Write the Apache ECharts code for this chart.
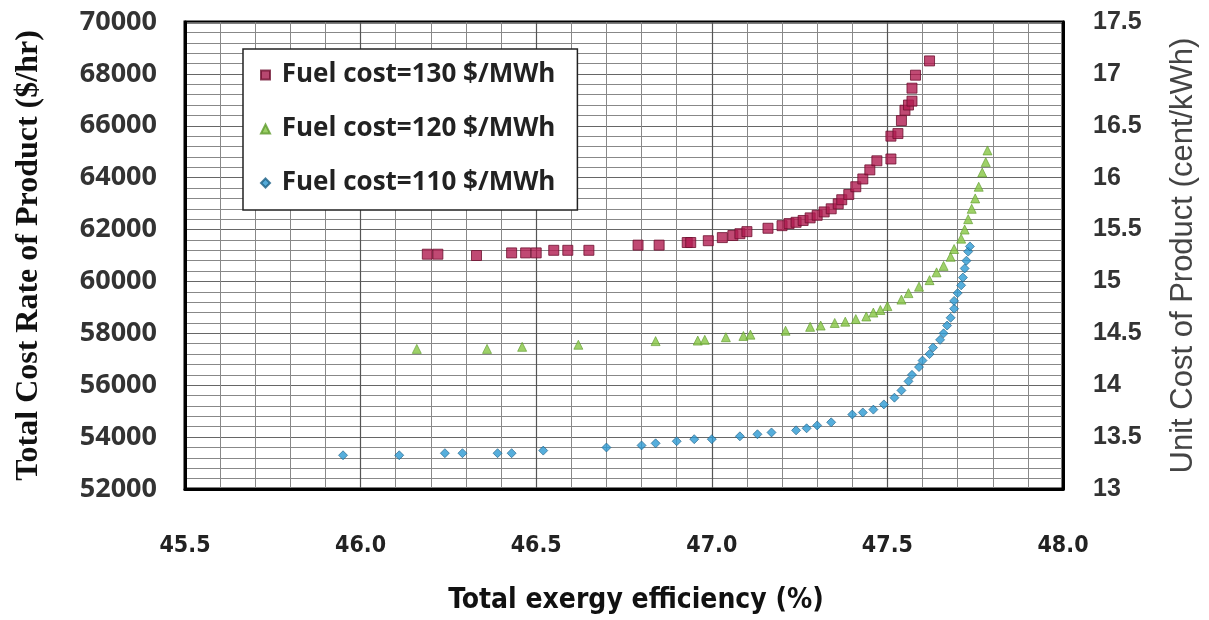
<!DOCTYPE html>
<html>
<head>
<meta charset="utf-8">
<script src="https://cdn.jsdelivr.net/npm/echarts@6/dist/echarts.min.js"></script>
<style>
html,body{margin:0;padding:0;background:#fff;}
#chart{width:1209px;height:620px;}
</style>
</head>
<body>
<div id="chart"></div>
<script>
// Fuel cost = 130 $/MWh
const x130 = [46.19,46.22,46.33,46.43,46.47,46.50,46.55,46.59,46.65,46.79,46.85,46.93,46.94,46.99,47.03,47.06,47.08,47.10,47.16,47.20,47.22,47.24,47.26,47.28,47.30,47.32,47.34,47.36,47.37,47.39,47.41,47.43,47.45,47.47,47.51,47.51,47.53,47.54,47.55,47.56,47.57,47.57,47.58,47.62];
const y130 = [61050,61050,61000,61100,61100,61100,61200,61200,61200,61400,61400,61500,61500,61570,61690,61770,61840,61920,62050,62150,62230,62280,62350,62450,62550,62680,62800,62990,63150,63350,63650,63950,64300,64650,64720,65600,65700,66200,66600,66800,66950,67450,67950,68500];
// Fuel cost = 120 $/MWh
const x120 = [46.16,46.36,46.46,46.62,46.84,46.96,46.98,47.04,47.09,47.11,47.21,47.28,47.31,47.35,47.38,47.41,47.44,47.46,47.48,47.50,47.54,47.56,47.59,47.62,47.64,47.66,47.68,47.69,47.71,47.72,47.73,47.74,47.75,47.76,47.77,47.78,47.785];
const y120 = [57400,57400,57480,57560,57700,57720,57750,57850,57900,57950,58100,58250,58300,58400,58450,58550,58650,58800,58900,59050,59300,59550,59800,60050,60350,60600,60950,61250,61650,62000,62400,62800,63200,63650,64200,64600,65050];
// Fuel cost = 110 $/MWh
const x110 = [45.95,46.11,46.24,46.29,46.39,46.43,46.52,46.70,46.80,46.84,46.90,46.95,47.00,47.08,47.13,47.17,47.24,47.27,47.30,47.34,47.40,47.43,47.46,47.49,47.52,47.54,47.56,47.57,47.59,47.60,47.62,47.63,47.65,47.66,47.67,47.68,47.69,47.69,47.70,47.71,47.715,47.72,47.725,47.73,47.735];
const y110 = [53300,53300,53380,53380,53380,53380,53480,53600,53680,53760,53840,53920,53920,54030,54110,54180,54260,54340,54450,54570,54870,54950,55060,55260,55520,55800,56150,56400,56700,56950,57200,57450,57750,58000,58300,58600,58950,59250,59550,59850,60150,60500,60800,61150,61350];

const seriesNames = ['Fuel cost=130 $/MWh','Fuel cost=120 $/MWh','Fuel cost=110 $/MWh'];
const xTitle = 'Total exergy efficiency (%)';
const yLeftTitle = 'Total Cost Rate of Product ($/hr)';
const yRightTitle = 'Unit Cost of Product (cent/kWh)';

function pairs(xs, ys){ return xs.map((x,i)=>[x, ys[i]]); }

const narrow = "'DejaVu Sans Condensed', 'Liberation Sans Narrow', 'Liberation Sans', Arial";
const chart = echarts.init(document.getElementById('chart'), null, {renderer:'canvas'});
const option = {
  backgroundColor:'#ffffff',
  animation:false,
  grid:{left:185, right:146, top:22, bottom:118, show:true, borderColor:'#000', borderWidth:3, backgroundColor:'transparent'},
  legend:{
    orient:'vertical', left:243, top:49,
    backgroundColor:'#fff', borderColor:'#222', borderWidth:1.5,
    padding:[13,22,14,17], itemGap:28, itemWidth:9, itemHeight:9,
    formatter: n => ' ' + n,
    textStyle:{fontFamily:'Open Sans', fontWeight:'bold', fontSize:26, color:'#222'},
    data:[
      {name:seriesNames[0], icon:'rect', itemStyle:{color:'#A51A4C'}},
      {name:seriesNames[1], icon:'triangle', itemStyle:{color:'#82C341'}},
      {name:seriesNames[2], icon:'diamond', itemStyle:{color:'#2A96CF'}}
    ]
  },
  xAxis:{
    type:'value', min:45.5, max:48.0, interval:0.5,
    name:xTitle, nameLocation:'middle', nameGap:98,
    nameTextStyle:{fontFamily:narrow, fontWeight:'bold', fontSize:28, color:'#111', padding:[0,0,0,24]},
    axisLine:{show:true, lineStyle:{color:'#000', width:3}},
    axisTick:{show:false},
    axisLabel:{margin:46, fontFamily:narrow, fontWeight:'bold', fontSize:23, color:'#222', formatter:v=>v.toFixed(1)},
    splitLine:{show:true, lineStyle:{color:'#555', width:1.2}},
    minorTick:{show:false, splitNumber:5},
    minorSplitLine:{show:true, lineStyle:{color:'#888', width:1}}
  },
  yAxis:[{
    type:'value', min:52000, max:70000, interval:2000, position:'left',
    name:yLeftTitle, nameLocation:'middle', nameGap:140,
    nameTextStyle:{fontFamily:'Liberation Serif', fontWeight:'bold', fontSize:32, color:'#111'},
    axisLine:{show:true, lineStyle:{color:'#000', width:3}},
    axisTick:{show:false},
    axisLabel:{margin:28, fontFamily:'Open Sans', fontWeight:'bold', fontSize:27, color:'#333', formatter:v=>String(v)},
    splitLine:{show:true, lineStyle:{color:'#666', width:1.2}},
    minorTick:{show:false, splitNumber:5},
    minorSplitLine:{show:true, lineStyle:{color:'#888', width:1}}
  },{
    type:'value', min:13, max:17.5, interval:0.5, position:'right',
    name:yRightTitle, nameLocation:'middle', nameGap:105, nameRotate:90,
    nameTextStyle:{fontFamily:'Liberation Sans', fontSize:31, color:'#444'},
    axisLine:{show:true, lineStyle:{color:'#000', width:3}},
    axisTick:{show:false},
    axisLabel:{margin:30, fontFamily:'Liberation Sans', fontWeight:'bold', fontSize:25, color:'#333'},
    splitLine:{show:false}
  }],
  series:[
    {name:seriesNames[0], type:'scatter', yAxisIndex:0, symbol:'rect', symbolSize:10,
     itemStyle:{color:'#B01C50', borderColor:'#6E1030', borderWidth:1}, data:pairs(x130,y130)},
    {name:seriesNames[1], type:'scatter', yAxisIndex:0, symbol:'triangle', symbolSize:9,
     itemStyle:{color:'#86C542', borderColor:'#5E9A2C', borderWidth:0.8}, data:pairs(x120,y120)},
    {name:seriesNames[2], type:'scatter', yAxisIndex:0, symbol:'diamond', symbolSize:9,
     itemStyle:{color:'#2C9AD3', borderColor:'#1C5F85', borderWidth:0.8}, data:pairs(x110,y110)}
  ]
};
chart.setOption(option);
</script>
</body>
</html>
